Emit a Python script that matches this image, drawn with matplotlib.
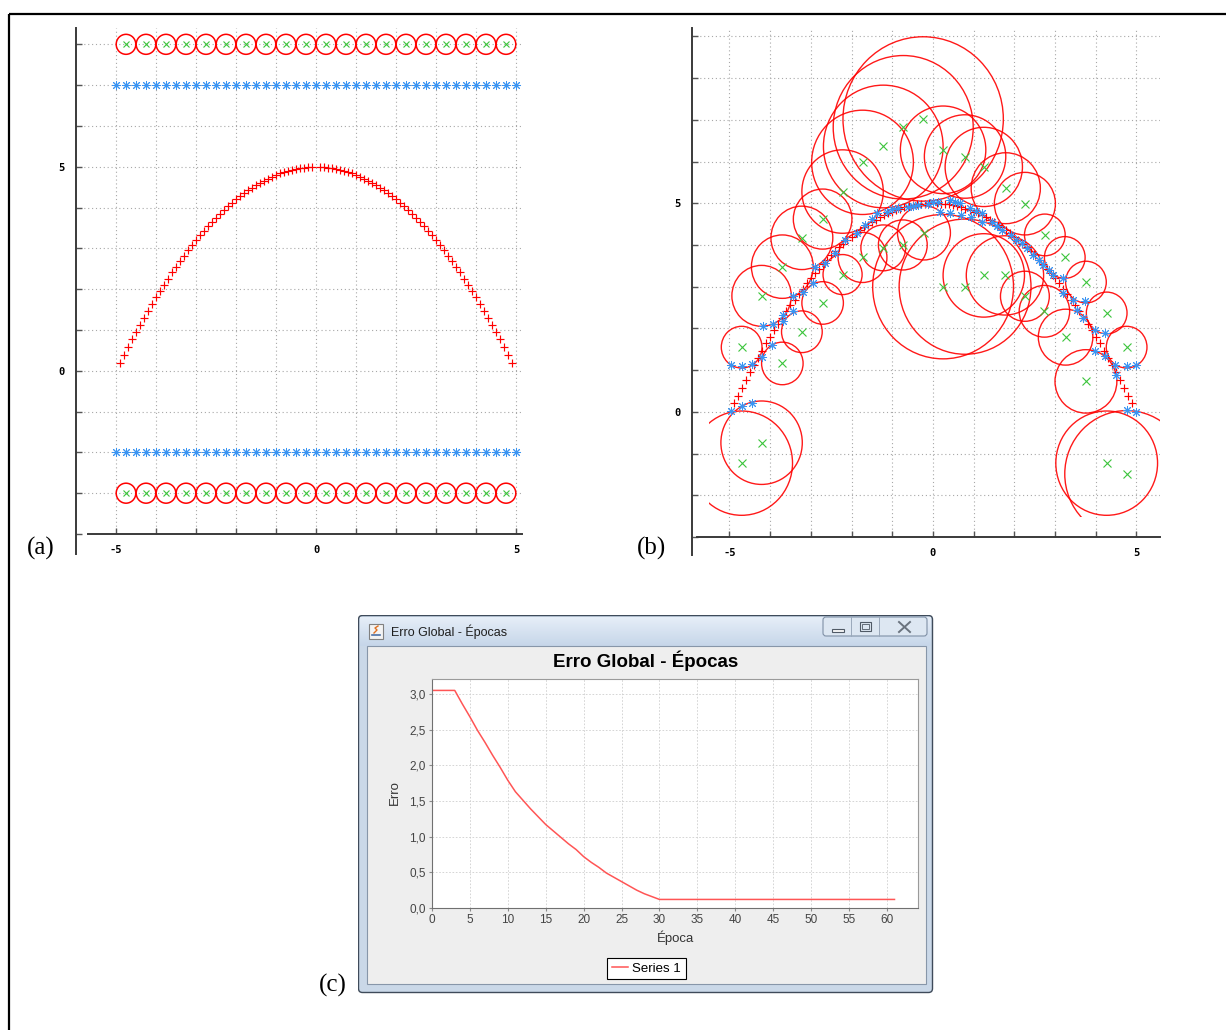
import numpy as np
import matplotlib
matplotlib.use("Agg")
import matplotlib.pyplot as plt
from matplotlib.patches import Circle, Rectangle, FancyBboxPatch
from matplotlib.colors import to_rgb
from matplotlib.ticker import FuncFormatter

plt.rcParams['font.family'] = ['Liberation Sans', 'DejaVu Sans']

W, H = 1226, 1030

# ---------------- dados ----------------
# função alvo amostrada (usada em (a) e (b))
alvo_x = [round(v, 1) for v in np.arange(-4.9, 4.95, 0.1) if abs(v) > 0.05]
alvo_y = [0.20, 0.39, 0.58, 0.77, 0.95, 1.13, 1.30, 1.47, 1.64, 1.80,
          1.96, 2.11, 2.26, 2.41, 2.55, 2.69, 2.82, 2.95, 3.08, 3.20,
          3.32, 3.43, 3.54, 3.65, 3.75, 3.85, 3.94, 4.03, 4.12, 4.20,
          4.28, 4.35, 4.42, 4.49, 4.55, 4.61, 4.66, 4.71, 4.76, 4.80,
          4.84, 4.87, 4.90, 4.93, 4.95, 4.97, 4.98, 4.99, 5.00,
          5.00, 4.99, 4.98, 4.97, 4.95, 4.93, 4.90, 4.87, 4.84, 4.80,
          4.76, 4.71, 4.66, 4.61, 4.55, 4.49, 4.42, 4.35, 4.28, 4.20,
          4.12, 4.03, 3.94, 3.85, 3.75, 3.65, 3.54, 3.43, 3.32, 3.20,
          3.08, 2.95, 2.82, 2.69, 2.55, 2.41, 2.26, 2.11, 1.96, 1.80,
          1.64, 1.47, 1.30, 1.13, 0.95, 0.77, 0.58, 0.39, 0.20]

# (a) estado inicial: centros, raios e saídas
ini_centros_x = np.arange(-4.75, 5.0, 0.5)
ini_centros_y = [8, -3]
ini_raio = 0.245
ini_saida_x = np.arange(-5.0, 5.01, 0.25)
ini_saida_y = [7, -2]

# (b) após o treino: centros das RBFs e seus raios
centros_x = [-4.70, -4.21, -4.70, -3.70, -4.21, -3.22, -2.71, -2.22, -3.70, -3.22,
             -2.71, -2.22, -1.73, -1.22, -0.73, -0.24, 0.25, 0.79, 1.25, 1.79,
             2.26, 2.75, 3.24, 3.76, 4.27, 4.76, 3.26, 2.74, 2.26, 1.77,
             1.25, 0.79, 0.25, -0.22, -0.74, -1.22, -1.73, 3.76, 4.27, 4.76]
centros_y = [-1.23, -0.74, 1.55, 1.16, 2.78, 1.92, 2.61, 3.29, 3.48, 4.17,
             4.62, 5.28, 5.98, 6.36, 6.82, 7.02, 6.28, 6.12, 5.87, 5.36,
             4.99, 4.24, 3.70, 3.11, 2.37, 1.55, 1.79, 2.41, 2.77, 3.27,
             3.27, 3.00, 3.00, 4.29, 4.00, 3.93, 3.70, 0.73, -1.23, -1.49]
raios = [1.25, 1.00, 0.50, 0.51, 0.73, 0.50, 0.51, 0.48, 0.76, 0.76,
         0.72, 1.00, 1.25, 1.47, 1.72, 1.97, 1.05, 1.00, 0.95, 0.85,
         0.75, 0.50, 0.50, 0.50, 0.50, 0.50, 0.67, 0.62, 0.60, 0.95,
         1.00, 1.62, 1.73, 0.65, 0.60, 0.55, 0.60, 0.76, 1.25, 1.52]

# (b) saída da rede
saida_x = [-4.97, -4.70, -4.45, -4.97, -4.70, -4.45, -4.21, -3.96, -4.17, -3.92,
           -3.68, -3.68, -3.43, -3.43, -3.19, -2.94, -2.90, -2.65, -2.41, -2.16,
           -1.87, -1.67, -1.50, -1.38, -1.14, -1.00, -0.85, -0.61, -0.50, -0.36,
           -0.11, 0.00, 0.13, 0.42, 0.55, 0.66, 0.91, 1.07, 1.20, 1.44,
           1.57, 1.69, 1.93, 2.05, 2.18, 0.17, 0.42, 0.70, 0.93, 1.20,
           2.30, 2.47, 2.60, 2.71, 2.85, 2.96, 3.20, 3.20, 3.45, 3.53,
           3.73, 3.69, 3.98, 4.23, 3.98, 4.23, 4.47, 4.76, 5.00, 4.51,
           4.76, 5.00]
saida_y = [0.03, 0.14, 0.22, 1.13, 1.09, 1.15, 1.31, 1.61, 2.06, 2.11,
           2.17, 2.33, 2.41, 2.77, 2.88, 3.09, 3.48, 3.57, 3.81, 4.12,
           4.29, 4.48, 4.62, 4.76, 4.80, 4.86, 4.88, 4.91, 4.93, 4.96,
           4.99, 5.02, 5.04, 5.08, 5.03, 5.00, 4.88, 4.82, 4.76, 4.56,
           4.46, 4.36, 4.24, 4.13, 4.05, 4.80, 4.76, 4.72, 4.66, 4.56,
           3.92, 3.76, 3.65, 3.53, 3.40, 3.29, 3.21, 2.85, 2.69, 2.45,
           2.65, 2.25, 1.97, 1.89, 1.45, 1.33, 1.13, 1.09, 1.13, 0.89,
           0.05, 0.00]

# (c) erro global por época
epocas = list(range(62))
erro = [3.05, 3.05, 3.05, 3.05, 2.86, 2.68, 2.49, 2.32, 2.14, 1.97,
        1.79, 1.63, 1.51, 1.39, 1.28, 1.17, 1.08, 0.99, 0.90, 0.82,
        0.72, 0.64, 0.57, 0.49, 0.43, 0.37, 0.31, 0.25, 0.20, 0.16,
        0.12] + [0.12] * 31

VERMELHO = '#ff0000'
VERDE = '#3cc43c'
AZUL = '#3a94f2'
GRADE = dict(color='#a8a8a8', ls=(0, (1, 2.5)), lw=0.8)
TICKFONT = dict(fontfamily='DejaVu Sans Mono', fontweight='bold', fontsize=7.5)


def box(x0, y0, x1, y1):
    # caixa em pixels (origem no topo) -> fração da figura
    return [x0 / W, 1 - y1 / H, (x1 - x0) / W, (y1 - y0) / H]


def estilo_gnuplot(ax, xlim, ylim, esq_bounds, base_bounds, yminor):
    ax.set_xlim(*xlim)
    ax.set_ylim(*ylim)
    for s in ('top', 'right'):
        ax.spines[s].set_visible(False)
    ax.spines['left'].set_bounds(*esq_bounds)
    ax.spines['bottom'].set_bounds(*base_bounds)
    for s in ('left', 'bottom'):
        ax.spines[s].set_color('#3a3a3a')
        ax.spines[s].set_linewidth(1.4)
    ax.set_xticks([-5, 0, 5], labels=['-5', '0', '5'], **TICKFONT)
    ax.set_xticks(range(-5, 6), minor=True)
    ax.set_yticks([0, 5], labels=['0', '5'], **TICKFONT)
    ax.set_yticks(yminor, minor=True)
    ax.tick_params(which='both', direction='in', length=4, width=1, color='#555555')
    ax.tick_params(axis='x', which='major', pad=8)
    ax.tick_params(axis='y', which='major', pad=8)
    ax.grid(which='both', **GRADE)
    ax.set_axisbelow(True)


fig = plt.figure(figsize=(W / 100, H / 100), dpi=100)

# moldura e rótulos dos painéis
bg = fig.add_axes([0, 0, 1, 1], zorder=-1)
bg.set_xlim(0, W)
bg.set_ylim(H, 0)
bg.axis('off')
bg.plot([9, 9], [14, H], color='black', lw=1.6, solid_capstyle='butt')
bg.plot([9, W], [14, 14], color='black', lw=1.6, solid_capstyle='butt')
for txt, px, py in [('(a)', 41, 548), ('(b)', 652, 548), ('(c)', 333, 985)]:
    bg.text(px, py, txt, ha='center', va='center', fontsize=18,
            fontfamily='Liberation Serif')

# ---------------- (a) ----------------
ax_a = fig.add_axes(box(76, 28, 522, 534))
estilo_gnuplot(ax_a, (-6, 5.15), (-4, 8.4), (-4.5, 8.4), (-5.7, 5.15), range(-4, 9))
for yc in ini_centros_y:
    for xc in ini_centros_x:
        ax_a.add_patch(Circle((xc, yc), ini_raio, fill=False, ec=VERMELHO, lw=1.1))
    ax_a.plot(ini_centros_x, [yc] * len(ini_centros_x), ls='none', marker='x',
              ms=5, mew=0.8, color=VERDE)
for yc in ini_saida_y:
    ax_a.plot(ini_saida_x, [yc] * len(ini_saida_x), ls='none', marker=(8, 2, 0),
              ms=6.5, mew=0.7, color=AZUL)
ax_a.plot(alvo_x, alvo_y, ls='none', marker='+', ms=6, mew=0.85, color=VERMELHO)

# ---------------- (b) ----------------
ax_b = fig.add_axes(box(692, 28, 1160, 537))
estilo_gnuplot(ax_b, (-5.92, 5.58), (-3, 9.2), (-3.43, 9.2), (-5.8, 5.58), range(-3, 10))
recorte = Rectangle((-5.5, -2.51), 11.08, 11.71, transform=ax_b.transData)
for xc, yc, r in zip(centros_x, centros_y, raios):
    c = Circle((xc, yc), r, fill=False, ec=VERMELHO, lw=1.0, alpha=0.9)
    ax_b.add_patch(c)
    c.set_clip_path(recorte)
ax_b.plot(alvo_x, alvo_y, ls='none', marker='+', ms=6, mew=0.85, color=VERMELHO)
ax_b.plot(saida_x, saida_y, ls='none', marker=(8, 2, 0), ms=6.5, mew=0.7, color=AZUL)
ax_b.plot(centros_x, centros_y, ls='none', marker='x', ms=5.5, mew=0.8, color=VERDE)

# ---------------- (c) janela ----------------
win = fig.add_axes(box(358, 615, 934, 994))
win.axis('off')
win.add_patch(FancyBboxPatch((358.5, 615.5), 574, 377,
                             boxstyle='round,pad=0,rounding_size=4',
                             fc='#cad8e8', ec='#3f4b5a', lw=1.0))
c_top, c_bot = np.array(to_rgb('#e6eef8')), np.array(to_rgb('#c6d6e9'))
t = np.linspace(0, 1, 40)[:, None, None]
win.imshow(c_top + (c_bot - c_top) * t, extent=[360, 931, 646, 617],
           aspect='auto', zorder=1)
win.add_patch(Rectangle((367, 646), 559, 338, fc='#eeeeee', ec='#8796a9', lw=0.8, zorder=2))
# ícone
win.add_patch(Rectangle((369, 624), 14, 15, fc='#f3f3f3', ec='#808080', lw=0.8, zorder=3))
win.plot([372, 380], [635, 635], color='#4a6fa5', lw=1.2, zorder=4)
win.plot([374, 377, 375, 378], [633, 630, 628, 626], color='#e07020', lw=1.0, zorder=4)
win.text(391, 632, 'Erro Global - Épocas', ha='left', va='center', fontsize=9,
         color='#1f1f1f', zorder=4)
# botões
win.add_patch(FancyBboxPatch((823, 617), 104, 19, boxstyle='round,pad=0,rounding_size=3',
                             fc='#dde7f2', ec='#7f90a6', lw=0.8, zorder=3))
win.plot([851, 851], [617, 636], color='#9aa9bb', lw=0.7, zorder=4)
win.plot([879, 879], [617, 636], color='#9aa9bb', lw=0.7, zorder=4)
win.add_patch(Rectangle((832, 629), 12, 3, fc='#f6f6f6', ec='#505a66', lw=0.8, zorder=4))
win.add_patch(Rectangle((860, 622), 11, 9, fc='none', ec='#505a66', lw=0.8, zorder=4))
win.add_patch(Rectangle((862, 624), 7, 5, fc='none', ec='#505a66', lw=0.6, zorder=4))
win.plot([899, 910], [622, 632], color='#6a737e', lw=1.4, zorder=4)
win.plot([899, 910], [632, 622], color='#6a737e', lw=1.4, zorder=4)
win.set_xlim(358, 934)
win.set_ylim(994, 615)

fig.text(646 / W, 1 - 661 / H, 'Erro Global - Épocas', ha='center', va='center',
         fontsize=13.5, fontweight='bold', color='black')

# ---------------- (c) gráfico ----------------
ax_c = fig.add_axes(box(432, 679, 918, 908))
ax_c.set_facecolor('white')
ax_c.plot(epocas, erro, color='#ff5555', lw=1.1, label='Series 1')
ax_c.set_xlim(0, 64.1)
ax_c.set_ylim(0, 3.21)
ax_c.set_xticks(range(0, 61, 5))
ax_c.set_yticks(np.arange(0, 3.01, 0.5))
ax_c.yaxis.set_major_formatter(FuncFormatter(lambda v, p: f'{v:.1f}'.replace('.', ',')))
ax_c.tick_params(direction='out', length=2.5, width=0.8, color='#8a8a8a',
                 labelsize=8.5, labelcolor='#444444', pad=2)
ax_c.grid(color='#cfcfcf', ls=(0, (2, 2)), lw=0.6)
ax_c.set_axisbelow(True)
for s in ax_c.spines.values():
    s.set_color('#9a9a9a')
    s.set_linewidth(0.8)
ax_c.spines['left'].set_color('#707070')
ax_c.spines['bottom'].set_color('#707070')
fig.text(675 / W, 1 - 938 / H, 'Época', ha='center', va='center', fontsize=9.5, color='#333333')
fig.text(395 / W, 1 - 793 / H, 'Erro', ha='center', va='center', fontsize=9.5,
         color='#333333', rotation=90)
leg = ax_c.legend(loc='center', bbox_to_anchor=(646.5 / W, 1 - 968.5 / H),
                  bbox_transform=fig.transFigure, fancybox=False, framealpha=1,
                  edgecolor='black', fontsize=9.5, handlelength=1.2,
                  handletextpad=0.35, borderpad=0.35, borderaxespad=0)
leg.get_frame().set_linewidth(0.8)

fig.savefig('out.png', dpi=100, facecolor='white')
